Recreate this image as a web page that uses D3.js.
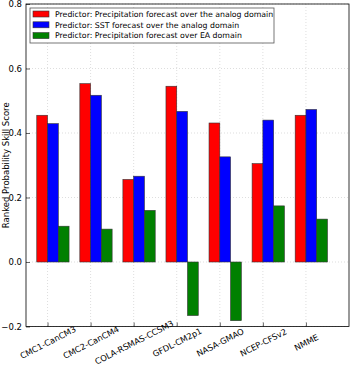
<!DOCTYPE html>
<html>
<head>
<meta charset="utf-8">
<script src="https://cdn.jsdelivr.net/npm/d3@7"></script>
<style>
  body { margin: 0; background: #fff; }
  text { font-family: "DejaVu Sans", sans-serif; fill: #000; }
</style>
</head>
<body>
<svg id="chart" width="350" height="368"></svg>
<script>
var models = ["CMC1-CanCM3", "CMC2-CanCM4", "COLA-RSMAS-CCSM3", "GFDL-CM2p1", "NASA-GMAO", "NCEP-CFSv2", "NMME"];
var precipAnalog = [0.455, 0.553, 0.256, 0.545, 0.431, 0.305, 0.455];
var sstAnalog = [0.429, 0.517, 0.266, 0.467, 0.326, 0.440, 0.473];
var precipEA = [0.111, 0.102, 0.160, -0.166, -0.182, 0.174, 0.133];
var seriesNames = [
  "Predictor: Precipitation forecast over the analog domain",
  "Predictor: SST forecast over the analog domain",
  "Predictor: Precipitation forecast over EA domain"
];
var seriesColors = ["#ff0000", "#0000ff", "#008000"];
var yTicks = [-0.2, 0.0, 0.2, 0.4, 0.6, 0.8];

var series = [precipAnalog, sstAnalog, precipEA];
var barW = 0.25;

// plot box (top/left are window props, so use a margin object)
var m = { left: 26, right: 349, top: 4, bottom: 326.5 };

var svg = d3.select("#chart");

var x = d3.scaleLinear().domain([-0.25, 7.25]).range([m.left, m.right]);
var y = d3.scaleLinear().domain([-0.2, 0.8]).range([m.bottom, m.top]);

// grid
var grid = svg.append("g").attr("class", "grid");
grid.selectAll(".vg")
  .data(models)
  .enter().append("line")
  .attr("x1", function(d, i) { return x(i + barW); })
  .attr("x2", function(d, i) { return x(i + barW); })
  .attr("y1", m.top).attr("y2", m.bottom)
  .attr("stroke", "#c8c8c8").attr("stroke-width", 0.6)
  .attr("stroke-dasharray", "1,2");
grid.selectAll(".hg")
  .data(yTicks)
  .enter().append("line")
  .attr("x1", m.left).attr("x2", m.right)
  .attr("y1", function(d) { return y(d); })
  .attr("y2", function(d) { return y(d); })
  .attr("stroke", "#c8c8c8").attr("stroke-width", 0.6)
  .attr("stroke-dasharray", "1,2");

// bars
series.forEach(function(vals, s) {
  svg.append("g")
    .selectAll("rect")
    .data(vals)
    .enter().append("rect")
    .attr("x", function(d, i) { return x(i + s * barW); })
    .attr("width", x(barW) - x(0))
    .attr("y", function(d) { return y(Math.max(0, d)); })
    .attr("height", function(d) { return Math.abs(y(d) - y(0)); })
    .attr("fill", seriesColors[s])
    .attr("stroke", "#333")
    .attr("stroke-width", 0.6);
});

// axes frame
svg.append("rect")
  .attr("x", m.left).attr("y", m.top)
  .attr("width", m.right - m.left).attr("height", m.bottom - m.top)
  .attr("fill", "none").attr("stroke", "#000").attr("stroke-width", 0.8);

var yAxis = d3.axisLeft(y).tickValues(yTicks)
  .tickFormat(d3.format(".1f")).tickSizeInner(-4).tickSizeOuter(0).tickPadding(4);
var gy = svg.append("g").attr("transform", "translate(" + m.left + ",0)").call(yAxis);
gy.select(".domain").remove();
gy.selectAll("text").style("font-size", "8.5px").style("font-family", "DejaVu Sans");
gy.selectAll("line").attr("stroke", "#000").attr("stroke-width", 0.6);

var xAxis = d3.axisBottom(x).tickValues(models.map(function(d, i) { return i + barW; }))
  .tickFormat(function(d, i) { return models[i]; }).tickSizeInner(-4).tickSizeOuter(0);
var gx = svg.append("g").attr("transform", "translate(0," + m.bottom + ")").call(xAxis);
gx.select(".domain").remove();
gx.selectAll("line").attr("stroke", "#000").attr("stroke-width", 0.6);
gx.selectAll("text")
  .style("font-size", "8.3px").style("font-family", "DejaVu Sans")
  .attr("text-anchor", "middle")
  .attr("y", 0).attr("dy", "0.35em")
  .attr("transform", "translate(0,16) rotate(-27)");

// y label
svg.append("g")
  .attr("transform", "translate(6," + ((m.top + m.bottom) / 2) + ")")
  .append("text")
  .attr("transform", "rotate(-90)")
  .attr("dy", "0.35em")
  .attr("text-anchor", "middle")
  .style("font-size", "8.5px")
  .text("Ranked Probability Skill Score");

// legend
var lg = svg.append("g");
lg.append("rect")
  .attr("x", 30).attr("y", 8).attr("width", 244).attr("height", 35)
  .attr("fill", "#fff").attr("stroke", "#555").attr("stroke-width", 0.8);
var rows = lg.selectAll(".row")
  .data(seriesNames)
  .enter().append("g")
  .attr("transform", function(d, i) { return "translate(0," + (14 + i * 10.8) + ")"; });
rows.append("rect")
  .attr("x", 33).attr("y", -3).attr("width", 16).attr("height", 6)
  .attr("fill", function(d, i) { return seriesColors[i]; })
  .attr("stroke", "#333").attr("stroke-width", 0.6);
rows.append("text")
  .attr("x", 55).attr("dy", "0.35em")
  .style("font-size", "7.8px")
  .text(function(d) { return d; });
</script>
</body>
</html>
